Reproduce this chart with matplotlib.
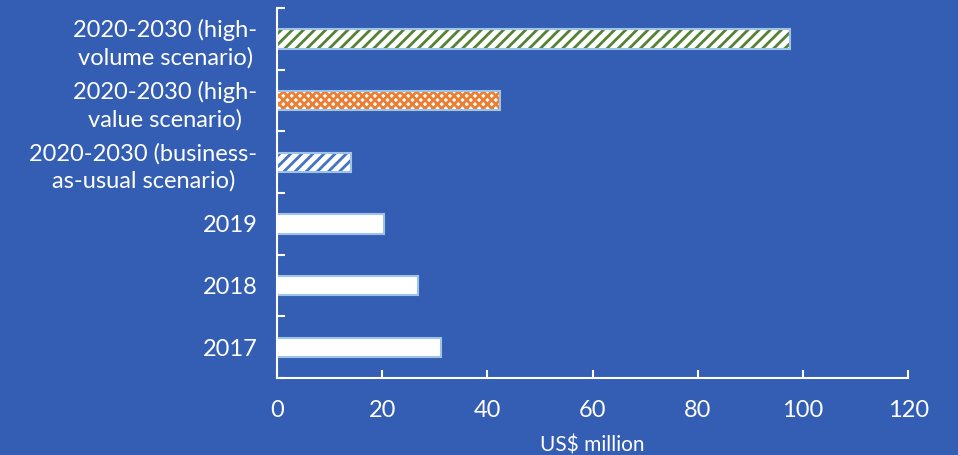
import numpy as np
import matplotlib.pyplot as plt

# datos (de abajo hacia arriba)
labels = ["2017", "2018", "2019",
          "2020-2030 (business-\nas-usual scenario)",
          "2020-2030 (high-\nvalue scenario)",
          "2020-2030 (high-\nvolume scenario)"]
values = [31.2, 26.8, 20.3, 14.1, 42.4, 97.5]
hatch_colors = ["white", "white", "white", "#4472C4", "#ED7D31", "#548235"]
hatches = [None, None, None, "///", "xxxx", "///"]
xticks = [0, 20, 40, 60, 80, 100, 120]

BG = "#345EB3"
EDGE = "#9DC3E6"

plt.rcParams["font.family"] = ["Lato", "DejaVu Sans"]
plt.rcParams["hatch.linewidth"] = 2.0

fig = plt.figure(figsize=(9.58, 4.55), dpi=100, facecolor=BG)
ax = fig.add_axes([0.289, 0.169, 0.659, 0.813], facecolor=BG)

y = np.arange(len(labels))
h = 0.31
for yi, v, hc, ht in zip(y, values, hatch_colors, hatches):
    ax.barh(yi, v, height=h, color="white", edgecolor=hc, hatch=ht, linewidth=0)
    ax.barh(yi, v, height=h, fill=False, edgecolor=EDGE, linewidth=1.5)

ax.set_xlim(0, 120)
ax.set_ylim(-0.5, len(labels) - 0.5)
ax.set_xticks(xticks)
ax.set_yticks(y)
ax.set_yticklabels(labels, multialignment="center", linespacing=1.35)
ax.set_yticks(np.arange(-0.5, len(labels), 1), minor=True)

for s in ["top", "right"]:
    ax.spines[s].set_visible(False)
for s in ["left", "bottom"]:
    ax.spines[s].set_color("white")
    ax.spines[s].set_linewidth(1.5)

ax.tick_params(axis="x", direction="in", length=6, width=1.5, colors="white",
               labelsize=17, pad=16)
ax.tick_params(axis="y", which="major", length=0, labelcolor="white",
               labelsize=17, pad=14)
ax.tick_params(axis="y", which="minor", direction="in", length=6, width=1.5,
               color="white")

ax.set_xlabel("US$ million", color="white", fontsize=15, labelpad=10)

fig.savefig("out.png", dpi=100, facecolor=BG)
